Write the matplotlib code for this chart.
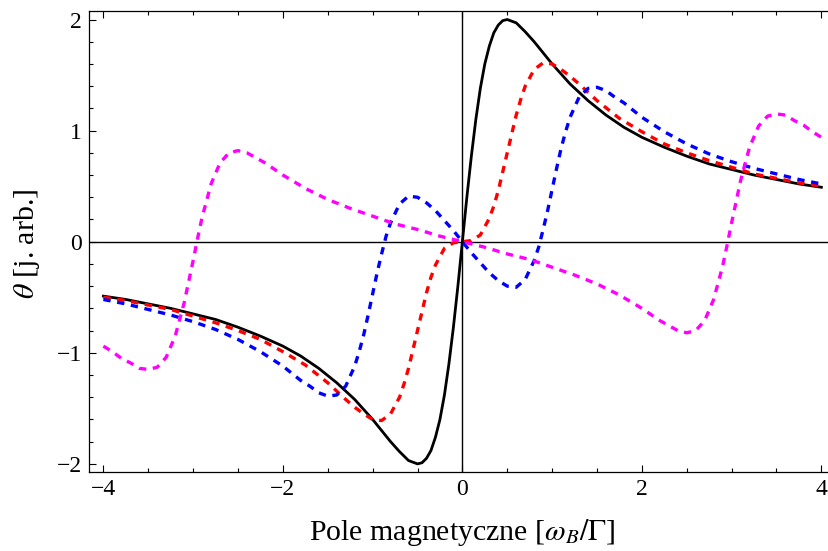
import matplotlib
matplotlib.use("Agg")
import matplotlib.pyplot as plt
from matplotlib.ticker import MultipleLocator

# values
x_black = [-4.0, -3.75, -3.5, -3.25, -3.0, -2.75, -2.5, -2.25, -2.0, -1.8, -1.6, -1.4, -1.2, -1.0,
           -0.9, -0.8, -0.7, -0.6, -0.5, -0.45, -0.4, -0.35, -0.3, -0.25, -0.2, -0.15, -0.1, -0.05,
           0.0, 0.05, 0.1, 0.15, 0.2, 0.25, 0.3, 0.35, 0.4, 0.45, 0.5, 0.6, 0.7, 0.8, 0.9,
           1.0, 1.2, 1.4, 1.6, 1.8, 2.0, 2.25, 2.5, 2.75, 3.0, 3.25, 3.5, 3.75, 4.0]
y_black = [-0.49, -0.52, -0.56, -0.60, -0.65, -0.70, -0.77, -0.85, -0.94, -1.03, -1.14, -1.27, -1.42, -1.60,
           -1.70, -1.80, -1.89, -1.97, -2.00, -1.99, -1.95, -1.88, -1.76, -1.60, -1.38, -1.10, -0.77, -0.40,
           0.0, 0.40, 0.77, 1.10, 1.38, 1.60, 1.76, 1.88, 1.95, 1.99, 2.00, 1.97, 1.89, 1.80, 1.70,
           1.60, 1.42, 1.27, 1.14, 1.03, 0.94, 0.85, 0.77, 0.70, 0.65, 0.60, 0.56, 0.52, 0.49]

x_red = [-4.0, -3.75, -3.5, -3.25, -3.0, -2.75, -2.5, -2.25, -2.0, -1.75, -1.5, -1.3, -1.2, -1.1, -1.0,
         -0.9, -0.8, -0.7, -0.65, -0.6, -0.55, -0.5, -0.45, -0.4, -0.35, -0.3, -0.2, -0.1,
         0.0, 0.1, 0.2, 0.3, 0.35, 0.4, 0.45, 0.5, 0.55, 0.6, 0.65, 0.7, 0.8, 0.9,
         1.0, 1.1, 1.2, 1.3, 1.5, 1.75, 2.0, 2.25, 2.5, 2.75, 3.0, 3.25, 3.5, 3.75, 4.0]
y_red = [-0.50, -0.53, -0.57, -0.61, -0.67, -0.73, -0.80, -0.88, -0.99, -1.11, -1.27, -1.42, -1.49, -1.55, -1.60,
         -1.61, -1.55, -1.40, -1.28, -1.14, -0.97, -0.80, -0.63, -0.46, -0.32, -0.21, -0.06, -0.01,
         0.0, 0.01, 0.06, 0.21, 0.32, 0.46, 0.63, 0.80, 0.97, 1.14, 1.28, 1.40, 1.55, 1.61,
         1.60, 1.55, 1.49, 1.42, 1.27, 1.11, 0.99, 0.88, 0.80, 0.73, 0.67, 0.61, 0.57, 0.53, 0.50]

x_blue = [-4.0, -3.75, -3.5, -3.25, -3.0, -2.75, -2.5, -2.25, -2.0, -1.8, -1.7, -1.6, -1.5, -1.4, -1.3,
          -1.2, -1.15, -1.1, -1.05, -1.0, -0.95, -0.9, -0.85, -0.8, -0.7, -0.6, -0.5, -0.4, -0.3, -0.2, -0.1,
          0.0, 0.1, 0.2, 0.3, 0.4, 0.5, 0.6, 0.7, 0.8, 0.85, 0.9, 0.95, 1.0, 1.05, 1.1, 1.15, 1.2,
          1.3, 1.4, 1.5, 1.6, 1.7, 1.8, 2.0, 2.25, 2.5, 2.75, 3.0, 3.25, 3.5, 3.75, 4.0]
y_blue = [-0.52, -0.56, -0.61, -0.66, -0.72, -0.79, -0.88, -0.99, -1.12, -1.25, -1.30, -1.36, -1.39, -1.38, -1.30,
          -1.12, -0.99, -0.84, -0.66, -0.47, -0.28, -0.11, 0.05, 0.17, 0.34, 0.41, 0.40, 0.35, 0.28, 0.19, 0.10,
          0.0, -0.10, -0.19, -0.28, -0.35, -0.40, -0.41, -0.34, -0.17, -0.05, 0.11, 0.28, 0.47, 0.66, 0.84, 0.99, 1.12,
          1.30, 1.38, 1.39, 1.36, 1.30, 1.25, 1.12, 0.99, 0.88, 0.79, 0.72, 0.66, 0.61, 0.56, 0.52]

x_magenta = [-4.0, -3.9, -3.8, -3.7, -3.6, -3.5, -3.4, -3.3, -3.2, -3.1, -3.05, -3.0, -2.95, -2.9, -2.8,
             -2.7, -2.6, -2.5, -2.4, -2.2, -2.0, -1.75, -1.5, -1.25, -1.0, -0.75, -0.5, -0.25,
             0.0, 0.25, 0.5, 0.75, 1.0, 1.25, 1.5, 1.75, 2.0, 2.2, 2.4, 2.5, 2.6, 2.7,
             2.8, 2.9, 2.95, 3.0, 3.05, 3.1, 3.2, 3.3, 3.4, 3.5, 3.6, 3.7, 3.8, 3.9, 4.0]
y_magenta = [-0.94, -0.99, -1.05, -1.09, -1.14, -1.15, -1.13, -1.04, -0.85, -0.55, -0.36, -0.17, 0.03, 0.22, 0.52,
             0.71, 0.80, 0.82, 0.80, 0.71, 0.60, 0.48, 0.38, 0.30, 0.23, 0.16, 0.11, 0.05,
             0.0, -0.05, -0.11, -0.16, -0.23, -0.30, -0.38, -0.48, -0.60, -0.71, -0.80, -0.82, -0.80, -0.71,
             -0.52, -0.22, -0.03, 0.17, 0.36, 0.55, 0.85, 1.04, 1.13, 1.15, 1.14, 1.09, 1.05, 0.99, 0.94]

plt.rcParams['font.family'] = 'Liberation Serif'
plt.rcParams['mathtext.fontset'] = 'stix'

fig = plt.figure(figsize=(8.29, 5.51), dpi=100)
ax = fig.add_axes([0.1074, 0.1434, 0.9007, 0.8367])

ax.axhline(0, color='black', lw=1.0, zorder=1)
ax.axvline(0, color='black', lw=1.0, zorder=1)

ax.plot(x_black, y_black, color='black', lw=2.0, zorder=2)
ax.plot(x_red, y_red, color=(1, 0, 0), lw=2.4, dashes=(2.2, 2.0), zorder=3)
ax.plot(x_blue, y_blue, color=(0, 0, 1), lw=2.4, dashes=(2.2, 2.0), zorder=4)
ax.plot(x_magenta, y_magenta, color=(1, 0, 1), lw=2.4, dashes=(2.2, 2.0), zorder=5)

ax.set_xlim(-4.16, 4.16)
ax.set_ylim(-2.073, 2.077)

ax.xaxis.set_major_locator(MultipleLocator(2))
ax.xaxis.set_minor_locator(MultipleLocator(0.5))
ax.yaxis.set_major_locator(MultipleLocator(1))
ax.yaxis.set_minor_locator(MultipleLocator(0.2))
ax.tick_params(which='both', direction='in', top=True, right=True, width=0.8, labelsize=17)
ax.tick_params(which='major', length=5, pad=5)
ax.tick_params(which='minor', length=3)
for s in ax.spines.values():
    s.set_linewidth(0.9)

ax.set_xlabel(r"Pole magnetyczne [$\omega_B/\Gamma$]", fontsize=21.5)
ax.set_ylabel(r"$\theta$ [j. arb.]", fontsize=21.5)
ax.xaxis.set_label_coords(0.5, -0.0976)
ax.yaxis.set_label_coords(-0.063, 0.494)

fig.savefig("out.png", dpi=100)
